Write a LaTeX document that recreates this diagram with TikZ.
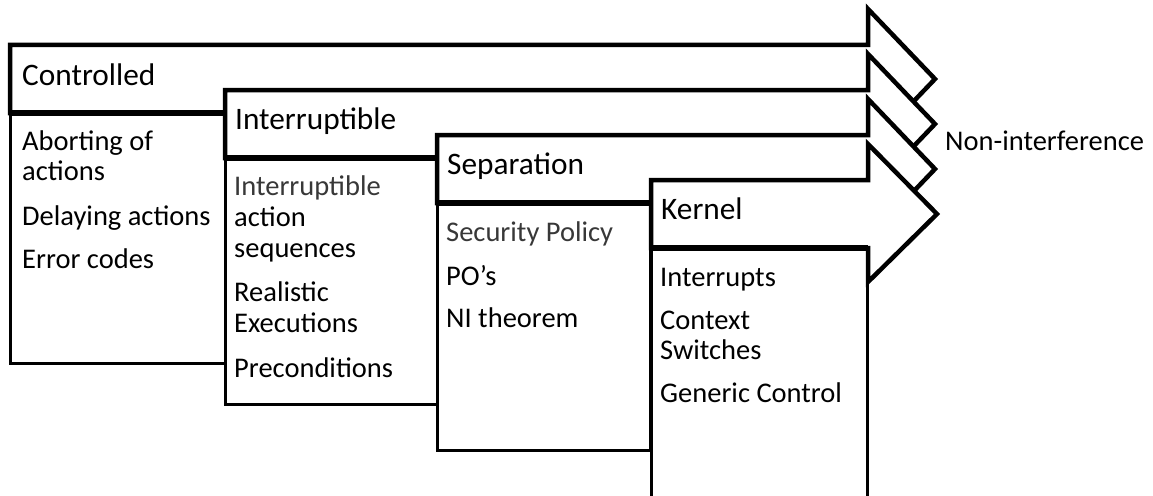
\documentclass[tikz,border=0pt]{standalone}
\usepackage{fontspec}
\setmainfont{Carlito}
\begin{document}
\begin{tikzpicture}[x=1pt,y=-1pt,
  arrowshape/.style={draw=black,fill=white,line width=4.5pt,line join=miter,miter limit=10},
  shaftbase/.style={draw=black,line width=6pt},
  lowerbox/.style={draw=black,fill=white,line width=3pt},
  hdr/.style={anchor=base west,inner sep=0pt,font=\fontsize{31.3}{34}\selectfont},
  body/.style={anchor=base west,inner sep=0pt,font=\fontsize{28.5}{30}\selectfont},
  soft/.style={text=black!78}]
\useasboundingbox (0,0) rectangle (1153,495);
\clip (0,0) rectangle (1153,495);
\fill[white] (0,0) rectangle (1153,495);

% Controlled
\draw[lowerbox] (10,113) rectangle (225,363);
\draw[arrowshape] (10,45) -- (868,45) -- (868,9) -- (935,79) -- (868,149) -- (868,113) -- (10,113) -- cycle;
\draw[shaftbase] (10,113) -- (868,113);
% Interruptible
\draw[lowerbox] (225,158) rectangle (437,404);
\draw[arrowshape] (225,90) -- (868,90) -- (868,54) -- (935,124) -- (868,194) -- (868,158) -- (225,158) -- cycle;
\draw[shaftbase] (225,158) -- (868,158);
% Separation
\draw[lowerbox] (437,203) rectangle (650,450);
\draw[arrowshape] (437,135) -- (868,135) -- (868,99) -- (935,169) -- (868,239) -- (868,203) -- (437,203) -- cycle;
\draw[shaftbase] (437,203) -- (868,203);
% Kernel
\draw[lowerbox] (651,248) rectangle (867,510);
\draw[arrowshape] (651,180) -- (868,180) -- (868,144) -- (937,214) -- (868,282) -- (868,248) -- (651,248) -- cycle;
\draw[shaftbase] (651,248) -- (868,248);

% Headers
\node[hdr] (hC) at (22,85) {Controlled};
\node[hdr] (hI) at (235,129) {Interruptible};
\node[hdr] (hS) at (447,174) {Separation};
\node[hdr] (hK) at (661,219) {Kernel};

% Controlled body
\node[body] (c1) at (22,150) {Aborting of};
\node[body] (c2) at (22,180) {actions};
\node[body] (c3) at (22,225) {Delaying actions};
\node[body] (c4) at (22,268) {Error codes};

% Interruptible body
\node[body,soft] (i1) at (234,195) {Interruptible};
\node[body] (i2) at (234,226) {action};
\node[body] (i3) at (234,257) {sequences};
\node[body] (i4) at (234,301) {Realistic};
\node[body] (i5) at (234,332) {Executions};
\node[body] (i6) at (234,377) {Preconditions};

% Separation body
\node[body,soft] (s1) at (446,241) {Security Policy};
\node[body] (s2) at (446,285) {PO’s};
\node[body] (s3) at (446,327) {NI theorem};

% Kernel body
\node[body] (k1) at (660,286) {Interrupts};
\node[body] (k2) at (660,329) {Context};
\node[body] (k3) at (660,359) {Switches};
\node[body] (k4) at (660,402) {Generic Control};

% Right label
\node[body] (ni) at (945,150) {Non-interference};
\end{tikzpicture}
\end{document}
